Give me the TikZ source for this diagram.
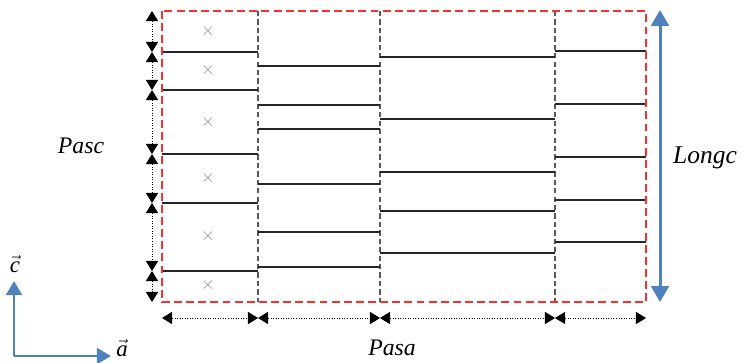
\documentclass[tikz,border=0pt]{standalone}
\usepackage{fontspec}
\setmainfont{Liberation Serif}
\usetikzlibrary{arrows.meta,calc}
\definecolor{axisblue}{RGB}{79,129,189}
\definecolor{boxred}{RGB}{255,45,45}

\begin{document}
\begin{tikzpicture}[x=0.02cm,y=-0.02cm,
	lbl/.style={font=\fontsize{13.5}{16}\selectfont\itshape,inner sep=0pt},
	level/.style={draw=black!85,line width=1pt},
	divider/.style={draw=black!65,line width=1.1pt,dash pattern=on 3pt off 1.8pt},
	pitch/.style={densely dotted,line width=0.45pt,{Triangle[width=7pt,length=5.8pt]}-{Triangle[width=7pt,length=5.8pt]}},
	bluearrow/.style={draw=axisblue,line width=1.7pt,{Triangle[width=10pt,length=9pt]}-{Triangle[width=10pt,length=9pt]}},
	axis/.style={draw=axisblue,line width=1.4pt,-{Triangle[width=9pt,length=8pt]}}]
	\useasboundingbox (0,0) rectangle (742,362);

	\coordinate (nw) at (162,11);
	\coordinate (se) at (646,302);

	\foreach \x in {258,380,555}
		\draw[divider] (\x,11) -- (\x,302);

	\foreach \y in {52,90,154,203,271}
		\draw[level] (162,\y) -- (258,\y);
	\foreach \y in {66,105,129,184,232,267}
		\draw[level] (258,\y) -- (380,\y);
	\foreach \y in {57,119,172,211,253}
		\draw[level] (380,\y) -- (555,\y);
	\foreach \y in {51,104,157,200,242}
		\draw[level] (555,\y) -- (646,\y);

	\foreach \y in {31,70,122,178,236,285}
		\node[text=black!45,inner sep=0pt] (cross\y) at (208,\y) {$\times$};

	\draw[boxred,line width=1.4pt,dash pattern=on 4.5pt off 2.4pt] (nw) rectangle (se);

	\foreach \a/\b in {11/52,52/90,90/154,154/203,203/271,271/302}
		\draw[pitch] (152,\a) -- (152,\b);
	\foreach \a/\b in {162/258,258/380,380/555,555/646}
		\draw[pitch] (\a,318) -- (\b,318);

	\coordinate (ltop) at (660,10);
	\coordinate (lbot) at (660,302);
	\draw[bluearrow] (ltop) -- (lbot);

	\coordinate (o) at (14,356);
	\coordinate (cend) at (14,281);
	\coordinate (aend) at (111,356);
	\draw[axis] (o) -- (cend);
	\draw[axis] (o) -- (aend);

	\node[lbl] (pasc) at (81,146) {Pasc};
	\node[lbl] (pasa) at (392,348) {Pasa};
	\node[lbl,font=\fontsize{14.5}{17}\selectfont\itshape] (longc) at (705,158) {Longc};
	\node[inner sep=0pt,font=\fontsize{13}{15}\selectfont] (cvec) at (15,264) {$\vec{\textit{c}}$};
	\node[inner sep=0pt,font=\fontsize{13}{15}\selectfont] (avec) at (122,348) {$\vec{\textit{a}}$};
\end{tikzpicture}
\end{document}
